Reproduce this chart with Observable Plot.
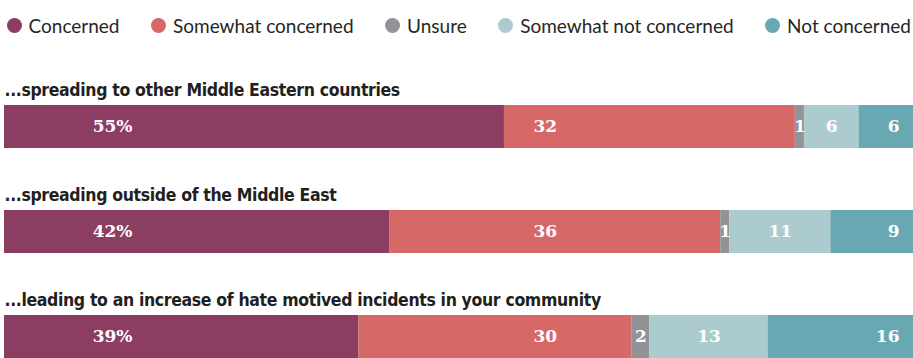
<!DOCTYPE html>
<html><head><meta charset="utf-8">
<script src="https://cdn.jsdelivr.net/npm/d3@7"></script>
<script src="https://cdn.jsdelivr.net/npm/@observablehq/plot@0.6"></script>
<style>
body{margin:0;background:#fff;}
#legend{display:flex;align-items:center;height:50px;padding-left:6.5px;font-family:Lato,sans-serif;font-size:19px;color:#262626;white-space:nowrap;}
.item{display:flex;align-items:center;margin-right:31.5px;}
.sw{width:15px;height:15px;border-radius:50%;margin-right:7px;flex:none;}
#chart svg{display:block;}
</style></head><body>
<div id="legend"></div><div id="chart"></div>
<script>
const questions = [
  "...spreading to other Middle Eastern countries",
  "...spreading outside of the Middle East",
  "...leading to an increase of hate motived incidents in your community"
];
const categories = ["Concerned","Somewhat concerned","Unsure","Somewhat not concerned","Not concerned"];
const colors = ["#8b3d62","#d66867","#939397","#abcbcf","#67a8b2"];
const concerned = [55, 42, 39];
const somewhatConcerned = [32, 36, 30];
const unsure = [1, 1, 2];
const somewhatNotConcerned = [6, 11, 13];
const notConcerned = [6, 9, 16];

const series = [concerned, somewhatConcerned, unsure, somewhatNotConcerned, notConcerned];
const data = [];
questions.forEach((q, i) => {
  categories.forEach((c, j) => {
    data.push({q, cat: c, value: series[j][i], label: j === 0 ? series[j][i] + "%" : String(series[j][i])});
  });
});

// legend
const legend = document.getElementById("legend");
categories.forEach((c, j) => {
  const it = document.createElement("div"); it.className = "item";
  const sw = document.createElement("span"); sw.className = "sw"; sw.style.background = colors[j];
  const tx = document.createElement("span"); tx.textContent = c;
  it.append(sw, tx); legend.append(it);
});

const labelFont = {fontSize: 17, fontFamily: "DejaVu Serif", fontWeight: "bold", fill: "white", lineAnchor: "middle"};
const stackOpts = {offset: "normalize", x: "value", y: "q", z: "cat", order: categories};

const chart = Plot.plot({
  width: 913, height: 308,
  marginTop: 54, marginBottom: 0, marginLeft: 4, marginRight: 0,
  x: {domain: [0, 1], axis: null},
  y: {domain: questions, axis: null, paddingInner: 0.592, paddingOuter: 0},
  color: {domain: categories, range: colors},
  marks: [
    Plot.barX(data, Plot.stackX({...stackOpts, fill: "cat"})),
    // first two columns: fixed label anchors
    Plot.text(data.filter(d => d.cat === categories[0]), {x: () => 0.1408, y: "q", text: "label", textAnchor: "end", ...labelFont}),
    Plot.text(data.filter(d => d.cat === categories[1]), {x: () => 0.608, y: "q", text: "label", textAnchor: "end", ...labelFont}),
    // middle columns: centred in segment
    Plot.text(data, Plot.stackX({...stackOpts, text: d => (d.cat === categories[2] || d.cat === categories[3]) ? d.label : "", textAnchor: "middle", ...labelFont})),
    // last column: right aligned near end
    Plot.text(data, Plot.stackX2({...stackOpts, text: d => d.cat === categories[4] ? d.label : "", textAnchor: "end", dx: -14, ...labelFont})),
    // row titles
    Plot.text(questions, {y: d => d, text: d => d, frameAnchor: "left", textAnchor: "start", lineAnchor: "bottom", dy: -31,
      fontSize: 17.5, fontWeight: "bold", fontFamily: "DejaVu Sans Condensed", fill: "#231f20"})
  ]
});
d3.select(chart).selectAll("text")
  .filter(function () { return questions.includes(this.textContent); })
  .attr("letter-spacing", "-0.35px");
document.getElementById("chart").append(chart);
</script>
</body></html>
